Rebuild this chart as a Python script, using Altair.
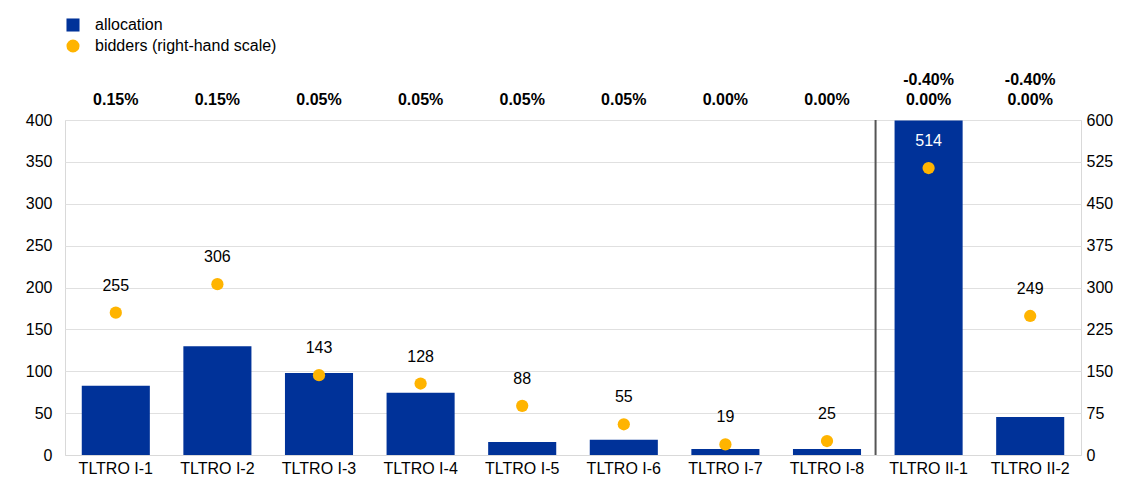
import altair as alt
import pandas as pd

categories = ["TLTRO I-1", "TLTRO I-2", "TLTRO I-3", "TLTRO I-4", "TLTRO I-5",
              "TLTRO I-6", "TLTRO I-7", "TLTRO I-8", "TLTRO II-1", "TLTRO II-2"]
allocation = [82.6, 129.8, 97.8, 74.2, 15.5, 18.3, 7.3, 7.3, 399.3, 45.3]
bidders = [255, 306, 143, 128, 88, 55, 19, 25, 514, 249]
rate_top = ["", "", "", "", "", "", "", "", "-0.40%", "-0.40%"]
rate_bottom = ["0.15%", "0.15%", "0.05%", "0.05%", "0.05%", "0.05%", "0.00%", "0.00%", "0.00%", "0.00%"]
separator_at = ["TLTRO II-1"]
series_names = ["allocation", "bidders (right-hand scale)"]

BLUE = "#003299"
ORANGE = "#FFB400"
FS = 16

df = pd.DataFrame({
    "cat": categories,
    "allocation": allocation,
    "bidders": bidders,
    "rate_top": rate_top,
    "rate_bottom": rate_bottom,
    "s_alloc": series_names[0],
    "s_bid": series_names[1],
})
sep_df = pd.DataFrame({"cat": separator_at})

xenc = alt.X("cat:N", sort=categories, title=None,
             scale=alt.Scale(paddingInner=0.33, paddingOuter=0.165),
             axis=alt.Axis(labelAngle=0, ticks=False, labelFontSize=FS, labelColor="#000000",
                           labelPadding=5, domainColor="#d9d9d9"))

color_scale = alt.Scale(domain=series_names, range=[BLUE, ORANGE])
shape_scale = alt.Scale(domain=series_names, range=["square", "circle"])
legend = alt.Legend(title=None, orient="none", legendX=0, legendY=-103,
                    labelFontSize=FS, labelColor="#000000", symbolSize=170,
                    rowPadding=5, labelOffset=14, symbolStrokeWidth=0, labelLimit=400)

left_axis = alt.Axis(values=list(range(0, 401, 50)), ticks=False, domain=False,
                     labelFontSize=FS, labelColor="#000000", labelPadding=13,
                     grid=True, gridColor="#e0e0e0")
right_axis = alt.Axis(orient="right", values=list(range(0, 601, 75)), ticks=False, domain=False,
                      labelFontSize=FS, labelColor="#000000", labelPadding=5, grid=False)

base = alt.Chart(df)

bars = base.mark_bar().encode(
    x=xenc,
    y=alt.Y("allocation:Q", scale=alt.Scale(domain=[0, 400]), axis=left_axis, title=None),
    color=alt.Color("s_alloc:N", scale=color_scale, legend=legend),
)

sep = alt.Chart(sep_df).mark_rule(color="#555555", strokeWidth=2, xOffset=-19).encode(
    x=alt.X("cat:N", sort=categories, bandPosition=0),
    y=alt.value(0), y2=alt.value(335),
)

rate_b = base.mark_text(fontSize=FS, fontWeight="bold", color="#000000", baseline="middle").encode(
    x=alt.X("cat:N", sort=categories), y=alt.value(-20), text="rate_bottom:N")
rate_t = base.mark_text(fontSize=FS, fontWeight="bold", color="#000000", baseline="middle").encode(
    x=alt.X("cat:N", sort=categories), y=alt.value(-40), text="rate_top:N")

left = alt.layer(bars, sep, rate_b, rate_t)

yr = alt.Y("bidders:Q", scale=alt.Scale(domain=[0, 600]), axis=right_axis, title=None)

points = base.mark_point(filled=True, opacity=1, size=150).encode(
    x=alt.X("cat:N", sort=categories),
    y=yr,
    color=alt.Color("s_bid:N", scale=color_scale, legend=legend),
    shape=alt.Shape("s_bid:N", scale=shape_scale, legend=legend),
)
labels = base.mark_text(fontSize=FS, dy=-27, baseline="middle").encode(
    x=alt.X("cat:N", sort=categories),
    y=yr,
    text="bidders:Q",
    color=alt.condition(alt.datum.bidders > 500, alt.value("#ffffff"), alt.value("#000000")),
)
right = alt.layer(points, labels)

chart = alt.layer(left, right).resolve_scale(y="independent").properties(
    width=1016, height=335,
    autosize=alt.AutoSizeParams(type="none"),
    padding={"left": 57, "top": 112, "right": 33, "bottom": 22},
).configure(font="Liberation Sans").configure_view(stroke="#d9d9d9")

chart.save("out.html", embed_options={"renderer": "svg", "actions": False})
